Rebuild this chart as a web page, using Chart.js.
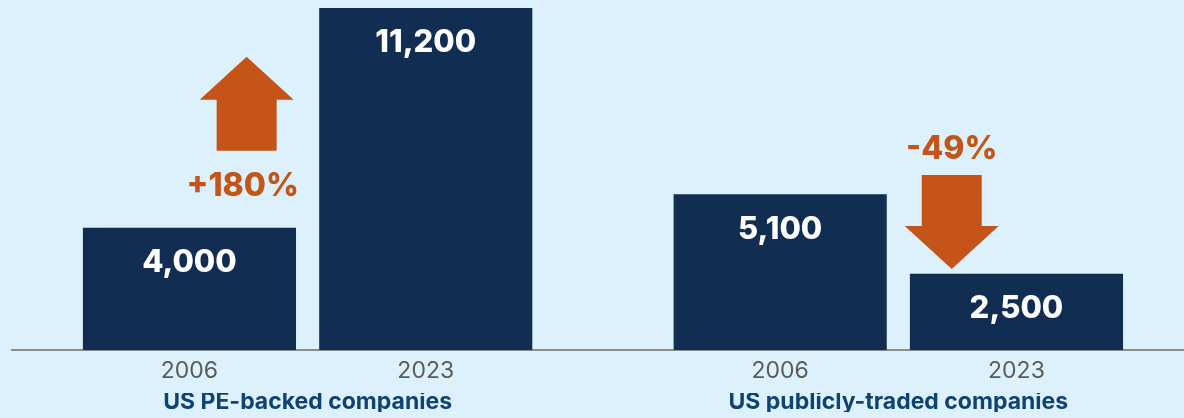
<!DOCTYPE html>
<html>
<head>
<meta charset="utf-8">
<script src="https://cdn.jsdelivr.net/npm/chart.js@4/dist/chart.umd.min.js"></script>
<style>
    html, body { margin: 0; padding: 0; background: #dcf1fc; }
    #wrap { width: 1184px; height: 418px; position: relative; }
</style>
</head>
<body>
<div id="wrap"><canvas id="companies-chart"></canvas></div>
<script>
// Company counts, two groups of two years
const years = ['2006', '2023', '2006', '2023'];
const barSlots = [0, 1, 2.5, 3.5];
const counts = [4000, 11200, 5100, 2500];
const groupNames = ['US PE-backed companies', 'US publicly-traded companies'];
const groupSlots = [0.5, 3];
const changeLabels = ['+180%', '-49%'];

const NAVY = '#112d52';
const ORANGE = '#c45417';

// value labels inside the bars + the up/down change arrows
const barAnnotations = {
    id: 'barAnnotations',
    afterDatasetsDraw(chart) {
        const ctx = chart.ctx;
        const meta = chart.getDatasetMeta(0);
        const xs = chart.scales.x;
        const ys = chart.scales.y;

        ctx.save();
        ctx.fillStyle = '#ffffff';
        ctx.font = '800 31px Inter';
        ctx.textAlign = 'center';
        ctx.textBaseline = 'middle';
        meta.data.forEach((bar, i) => {
            ctx.fillText(counts[i].toLocaleString('en-US'), bar.x, bar.y + 35);
        });

        // arrow tip sits between the two bars of each group
        const arrows = [
            { x: 0.242, tip: 9600, dir: -1, label: changeLabels[0] },
            { x: 3.226, tip: 2650, dir: 1, label: changeLabels[1] }
        ];
        arrows.forEach(a => {
            const cx = xs.getPixelForValue(a.x);
            const ty = ys.getPixelForValue(a.tip);
            const len = 94, head = 43, headW = 47, shaftW = 30;
            const d = a.dir; // -1 points up, 1 points down
            ctx.fillStyle = ORANGE;
            ctx.beginPath();
            ctx.moveTo(cx, ty);
            ctx.lineTo(cx + headW, ty - d * head);
            ctx.lineTo(cx + shaftW, ty - d * head);
            ctx.lineTo(cx + shaftW, ty - d * len);
            ctx.lineTo(cx - shaftW, ty - d * len);
            ctx.lineTo(cx - shaftW, ty - d * head);
            ctx.lineTo(cx - headW, ty - d * head);
            ctx.closePath();
            ctx.fill();

            ctx.font = '800 32px Inter';
            const ly = d < 0 ? ty + len + 36 : ty - len - 26;
            ctx.fillText(a.label, cx - (d < 0 ? 4 : 0), ly);
        });
        ctx.restore();
    }
};

new Chart(document.getElementById('companies-chart'), {
    type: 'bar',
    data: {
        datasets: [{
            data: barSlots.map((s, i) => ({ x: s, y: counts[i] })),
            backgroundColor: NAVY,
            borderWidth: 0,
            barPercentage: 0.902,
            categoryPercentage: 1,
            xAxisID: 'x'
        }]
    },
    options: {
        responsive: true,
        maintainAspectRatio: false,
        animation: false,
        layout: { padding: { top: 8, left: 12, right: 0, bottom: 6 } },
        plugins: {
            legend: { display: false },
            tooltip: { enabled: false }
        },
        scales: {
            x: {
                type: 'linear',
                min: -0.751,
                max: 4.209,
                offset: false,
                grid: { display: false, drawTicks: false },
                border: { display: true, color: '#8c8c8c', width: 2 },
                afterBuildTicks: scale => { scale.ticks = barSlots.map(v => ({ value: v })); },
                ticks: {
                    autoSkip: false,
                    maxRotation: 0,
                    padding: 10,
                    color: '#5b5b5b',
                    font: { family: 'Inter', size: 23, lineHeight: 1 },
                    callback: (v) => years[barSlots.indexOf(v)]
                }
            },
            groups: {
                type: 'linear',
                position: 'bottom',
                min: -0.751,
                max: 4.209,
                offset: false,
                grid: { display: false, drawTicks: false },
                border: { display: false },
                afterBuildTicks: scale => { scale.ticks = groupSlots.map(v => ({ value: v })); },
                ticks: {
                    autoSkip: false,
                    maxRotation: 0,
                    padding: -2,
                    color: '#0f4374',
                    font: { family: 'Inter', size: 23, weight: '700', lineHeight: 1 },
                    callback: (v) => groupNames[groupSlots.indexOf(v)]
                }
            },
            y: {
                display: false,
                min: 0,
                max: 11200
            }
        }
    },
    plugins: [barAnnotations]
});
</script>
</body>
</html>
